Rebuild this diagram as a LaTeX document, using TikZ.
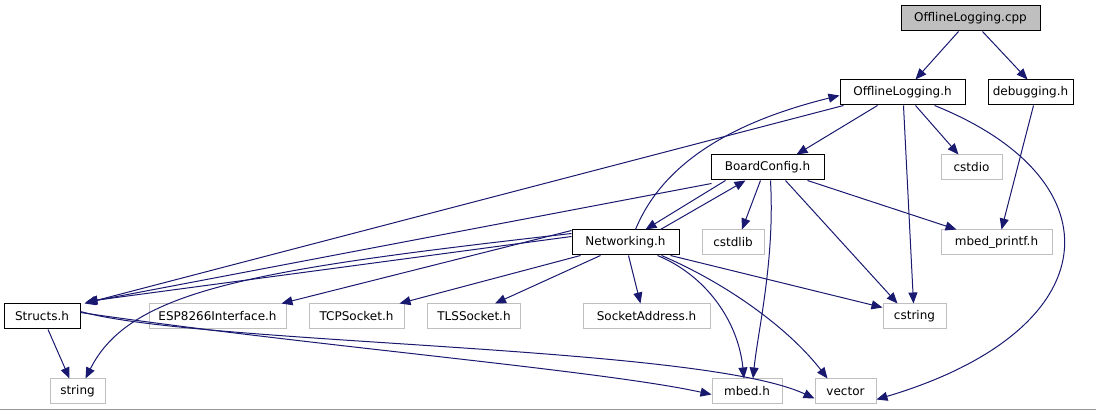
\documentclass[tikz,border=0pt]{standalone}
\usepackage{fontspec}
\setmainfont{DejaVu Sans}
\usetikzlibrary{arrows.meta}
\definecolor{edgeblue}{HTML}{191970}
\definecolor{extgray}{HTML}{BFBFBF}
\definecolor{rootgray}{HTML}{BFBFBF}
\tikzset{
  file/.style={draw=black, rectangle, minimum height=25pt, inner sep=0pt,
    line width=1pt, font=\fontsize{12}{14}\selectfont},
  extfile/.style={file, draw=extgray},
  dep/.style={-{Triangle[length=11pt,width=9pt]}, draw=edgeblue, line width=1pt},
}

\begin{document}
\begin{tikzpicture}[x=1pt, y=-1pt]
  \useasboundingbox (0,0) rectangle (1096,411);
  % files
  \node[file, fill=rootgray, minimum width=139pt] (cpp) at (970.5,18.5) {OfflineLogging.cpp};
  \node[file, minimum width=125pt] (offh) at (902.5,92.5) {OfflineLogging.h};
  \node[file, minimum width=85pt] (dbg) at (1030.5,92.5) {debugging.h};
  \node[file, minimum width=113pt] (board) at (767.5,167.5) {BoardConfig.h};
  \node[extfile, minimum width=61pt] (cstdio) at (971.5,167.5) {cstdio};
  \node[file, minimum width=107pt] (net) at (625.5,242.5) {Networking.h};
  \node[extfile, minimum width=62pt] (cstdlib) at (733,242.5) {cstdlib};
  \node[extfile, minimum width=111pt] (printf) at (996.5,242.5) {mbed\_printf.h};
  \node[file, minimum width=76pt] (structs) at (42,316.5) {Structs.h};
  \node[extfile, minimum width=137pt] (esp) at (217.5,316.5) {ESP8266Interface.h};
  \node[extfile, minimum width=95pt] (tcp) at (356.5,316.5) {TCPSocket.h};
  \node[extfile, minimum width=93pt] (tls) at (474,316.5) {TLSSocket.h};
  \node[extfile, minimum width=127pt] (sockaddr) at (646.5,316.5) {SocketAddress.h};
  \node[extfile, minimum width=63pt] (cstring) at (914.5,316.5) {cstring};
  \node[extfile, minimum width=55pt] (string) at (77.5,391.5) {string};
  \node[extfile, minimum width=70pt] (mbed) at (747,391.5) {mbed.h};
  \node[extfile, minimum width=61pt] (vector) at (845.5,391.5) {vector};

  % includes of OfflineLogging.cpp
  \draw[dep] ([xshift=-12pt]cpp.south) -- ([xshift=13pt]offh.north);
  \draw[dep] ([xshift=12pt]cpp.south) -- ([xshift=-3pt]dbg.north);
  % includes of OfflineLogging.h
  \draw[dep] ([xshift=-25pt]offh.south) -- ([xshift=29pt]board.north);
  \draw[dep] ([xshift=13pt]offh.south) -- ([xshift=-13pt]cstdio.north);
  \draw[dep] ([xshift=1pt]offh.south) -- ([xshift=-1pt]cstring.north);
  \draw[dep] ([xshift=32pt]offh.south) .. controls (1120,180) and (1110,330) .. ([yshift=-8pt]vector.east);
  \draw[dep] ([xshift=4pt]offh.south west) -- ([xshift=4pt]structs.north east);
  % includes of debugging.h
  \draw[dep] ([xshift=3pt]dbg.south) -- ([xshift=5pt]printf.north);
  % includes of BoardConfig.h
  \draw[dep] ([xshift=-42pt]board.south) -- ([xshift=20pt]net.north);
  \draw[dep] ([xshift=-56pt,yshift=-3pt]board.south) -- ([xshift=5pt,yshift=1pt]structs.north east);
  \draw[dep] ([xshift=-7pt]board.south) -- ([xshift=9pt]cstdlib.north);
  \draw[dep] ([xshift=3pt]board.south) .. controls (775,260) and (758,330) .. ([xshift=6pt]mbed.north);
  \draw[dep] ([xshift=18pt]board.south) -- ([xshift=-17pt]cstring.north);
  \draw[dep] ([xshift=40pt]board.south) -- ([xshift=-40pt]printf.north);
  % includes of Networking.h
  \draw[dep] ([xshift=35pt]net.north) -- ([xshift=-22pt]board.south);
  \draw[dep] ([xshift=10pt]net.north) .. controls (660,170) and (720,125) .. ([yshift=-3pt]offh.west);
  \draw[dep] ([yshift=6pt]net.west) -- ([xshift=6pt,yshift=2pt]structs.north east);
  \draw[dep] ([yshift=9pt]net.west) .. controls (250,270) and (130,290) .. ([xshift=8pt]string.north);
  \draw[dep] ([yshift=12pt]net.west) -- ([xshift=64pt]esp.north);
  \draw[dep] ([xshift=-45pt]net.south) -- ([xshift=43pt]tcp.north);
  \draw[dep] ([xshift=-25pt]net.south) -- ([xshift=21pt]tls.north);
  \draw[dep] ([xshift=3pt]net.south) -- ([xshift=-6pt]sockaddr.north);
  \draw[dep] ([xshift=45pt]net.south) -- ([yshift=-4pt]cstring.north west);
  \draw[dep] ([xshift=32pt]net.south) .. controls (705,275) and (738,320) .. ([xshift=-3pt]mbed.north);
  \draw[dep] ([xshift=36pt]net.south) .. controls (730,285) and (790,330) .. ([xshift=-18pt]vector.north);
  % includes of Structs.h
  \draw[dep] ([xshift=6pt]structs.south) -- ([xshift=-8pt]string.north);
  \draw[dep] ([yshift=4pt]structs.east) .. controls (300,345) and (600,370) .. ([yshift=-3pt]mbed.west);
  \draw[dep] ([yshift=5pt]structs.east) .. controls (200,345) and (700,345) .. ([yshift=-7pt]vector.west);

  % page rule
  \draw[color=extgray!80!black, line width=1pt] (0,410) -- (1096,410);
\end{tikzpicture}
\end{document}
